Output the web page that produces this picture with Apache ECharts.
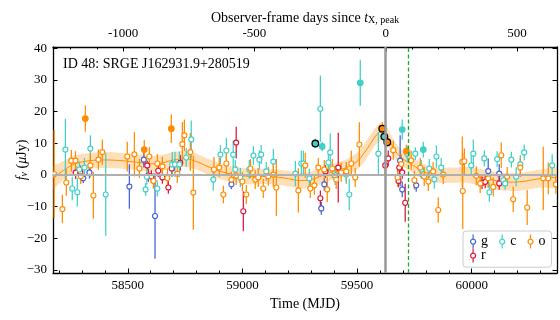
<!DOCTYPE html>
<html><head><meta charset="utf-8">
<script src="https://cdn.jsdelivr.net/npm/echarts@6/dist/echarts.min.js"></script>
<style>html,body{margin:0;padding:0;background:#fff}#c{width:560px;height:320px}</style>
</head><body><div id="c"></div>
<script>
// ---- data ----
// each row: [MJD, flux (uJy), error, kind]  kind: 0 open, 1 filled, 2 filled with black edge
const gPoints = [
 [58306,-1.1,1.5,0],[58333,0.8,2,0],[58507,-3.7,7,0],[58570,4.8,2.5,0],[58619,-13,13.5,0],
 [58952,-3,1.5,0],[59344,-10.6,2,0],[59357,-3,2,0],[59688,4.5,8,0],[59697,-4.6,2.5,0],
 [59758,-3.3,2,0],[60072,1.2,4,0],[60120,0.4,3,0]
];
const rPoints = [
 [58273,0.7,2,0],[58293,1,2,0],[58585,3,1.5,0],[58590,-0.2,2,0],[58603,-0.5,2,0],
 [58633,1.3,2,0],[58651,-0.8,2,0],[58677,-4,2,0],[58692,2,2.5,0],[58729,3.8,2.5,0],
 [58973,10.2,5,0],[59004,-11.5,6.3,0],[59340,-7.4,2.5,0],[59362,1.1,2,0],[59418,2.3,11,0],
 [59623,3,3,0],[59636,5.2,2.5,0],[59681,-1.9,2,0],[59684,2.3,2.5,0],[59697,0.8,2,0],
 [59710,-8.8,6,0],[60045,-2.5,2,0],[60059,-2.2,2,0],[60120,-2.7,2,0]
];
const cPoints = [
 [58228,8,9.7,0],[58258,-4.3,3.7,0],[58280,-5.5,4.5,0],[58289,1.7,2.5,0],[58311,2.3,3,0],
 [58337,8.3,4.2,0],[58404,-6.2,13,0],[58578,-4.6,2,0],[58583,-0.6,2.5,0],[58629,-4.3,2.5,0],
 [58694,3.3,4,0],[58706,3.3,4,0],[58725,3.3,4,0],[58755,5.5,3,0],[58777,11.2,6,0],
 [58873,-1.5,3.5,0],[58904,6.4,3,0],[58930,7.7,4,0],[58960,6.4,4.5,0],[58969,1.7,3,0],
 [58991,-0.8,3,0],[59030,1.7,3,0],[59048,6.1,3,0],[59074,4.8,3,0],[59082,6.4,3,0],
 [59104,1.1,3,0],[59135,4.2,4,0],[59231,0.4,4,0],[59257,3.6,4,0],[59266,3.6,4,0],
 [59292,-1.1,3,0],[59318,9.9,1.5,2],[59340,20.9,10.5,0],[59348,9,1.5,1],[59375,3.9,3,0],
 [59383,7.1,6,0],[59405,-0.2,3,0],[59453,0.1,3,0],[59466,-6.2,5,0],[59514,29.1,7.3,1],
 [59593,6.7,6.8,0],[59619,12.1,1.5,2],[59697,14.3,3.2,1],[59719,6.7,2.5,0],[59754,6.7,2,0],
 [59780,1.7,3,0],[59789,8,2.5,1],[59815,2,3,0],[59837,-1.4,3,0],[59846,5.8,3.5,0],
 [59867,2.3,3,0],[59998,3,3,0],[60007,6.7,4.5,0],[60055,5.2,2.5,0],[60077,-5.5,3,0],
 [60111,5,2.5,0],[60138,-1.7,2,0],[60146,-2.7,2,0],[60173,4.8,2.5,0],[60194,-0.6,3,0],
 [60212,3.3,3,0],[60229,7.1,2.5,0],[60351,3,3.5,0]
];
const oPoints = [
 [58179,0.2,14,0],[58215,-10.8,4.5,0],[58232,-2.4,4.2,0],[58254,4.5,3.4,0],[58272,4.5,3,0],
 [58295,-0.4,2.5,0],[58315,17.8,4.2,1],[58337,3,3.7,0],[58350,-6.5,7.4,0],[58372,4.8,3.2,0],
 [58389,7.2,4,0],[58498,5.8,4.7,0],[58529,6.5,7,0],[58551,2,3,0],[58572,8,3,1],
 [58594,5.8,3,0],[58612,-1.9,2.5,0],[58629,3.6,3,0],[58651,2.7,3,0],[58673,-1,3,0],
 [58690,14.6,4.5,1],[58716,0.4,3,0],[58738,9.7,7,0],[58747,12.5,5,0],[58773,7.2,6,0],
 [58786,-5.6,11.7,0],[58876,1.7,4,0],[58899,2.3,3,0],[58917,-6.2,2.8,0],[58930,3.6,4,0],
 [58952,-1.5,2.5,0],[58973,-0.2,3,0],[59000,-2.1,3,0],[59017,-6.2,3,0],[59035,2,3,0],
 [59056,-1.5,3,0],[59069,-0.8,3,0],[59091,-4.3,3,0],[59113,-0.4,3,0],[59135,0.1,4,0],
 [59148,-4,9,0],[59244,-4.9,7,0],[59274,3,4,0],[59296,-4.3,3,0],[59314,-3.3,3,0],
 [59331,2.3,3,0],[59357,1.7,3,0],[59370,-4.6,4,0],[59392,2,3,0],[59409,-1.5,3,0],
 [59431,0.8,3,0],[59453,1.1,3,0],[59475,3.6,4,0],[59492,-0.8,3,0],[59510,9.6,7,0],
 [59610,14.6,2,2],[59632,10.3,1.5,2],[59658,7.8,3,0],[59677,-0.8,3,0],[59693,3.4,3,0],
 [59715,7.5,2,1],[59736,4.6,3,0],[59750,-1.7,3,0],[59776,2.3,3,0],[59793,-0.5,3,0],
 [59811,-2.1,3,0],[59832,1.1,3,0],[59854,-11.1,4,0],[59876,0.1,3,0],[59959,4.1,8,0],
 [59961,-5.1,12,0],[59968,4.3,4,0],[60020,-0.3,3,0],[60037,-2.7,3,0],[60072,-1.1,3,0],
 [60094,-3.8,3,0],[60129,6.2,4,0],[60155,-0.5,3,0],[60181,-7.7,4,0],[60212,2.3,3,0],
 [60242,-10.3,5.5,0],[60312,-1.1,10,0],[60334,-1.1,5,0],[60367,-3,3,0]
];
// smooth model curve (mean and 1-sigma band)
const gpMJD = [58175,58200,58225,58250,58275,58300,58350,58400,58450,58500,58550,58600,58650,58700,58750,58800,58850,58900,58950,59000,59050,59100,59150,59200,59250,59300,59350,59400,59450,59500,59530,59560,59585,59605,59625,59645,59665,59685,59705,59730,59755,59780,59805,59830,59870,59920,59970,60020,60070,60120,60170,60220,60270,60320,60372];
const gpMean = [-0.8,0.4,1.7,2.8,3.6,4.1,4.6,4.7,4.6,4.3,3.9,3.5,3.8,4.7,5.1,4.2,2.6,1.2,0.3,-0.3,-0.5,-0.5,-0.7,-1.2,-1.8,-1.5,-0.2,1.2,2.2,4.3,6.8,10.0,12.6,13.7,12.8,10.3,7.8,6.0,4.8,3.6,2.5,1.4,0.6,0.1,-0.2,-0.1,0.1,-0.5,-1.2,-2.0,-2.3,-2.1,-1.5,-1.0,-0.8];
const gpSigma = [3.6,3.2,2.9,2.7,2.6,2.5,2.5,2.5,2.5,2.5,2.5,2.5,2.5,2.5,2.5,2.5,2.5,2.5,2.5,2.5,2.5,2.4,2.4,2.4,2.5,2.5,2.5,2.5,2.6,2.7,2.8,2.8,2.8,2.8,2.8,2.8,2.7,2.6,2.5,2.4,2.4,2.4,2.4,2.4,2.4,2.4,2.5,2.6,2.7,2.8,2.8,2.8,2.8,2.9,3.2];
const tPeakMJD = 59625;
const tDashMJD = 59722;
const mjdRange = [58174, 60372];
const daysRange = [-1267, 652];
const yRange = [-31, 40.4];
const mjdMajor = [58500, 59000, 59500, 60000];
const mjdMinor = [58200,58300,58400,58600,58700,58800,58900,59100,59200,59300,59400,59600,59700,59800,59900,60100,60200,60300];
const daysMajor = [-1000, -500, 0, 500];
const daysMinor = [-1200,-1100,-900,-800,-700,-600,-400,-300,-200,-100,100,200,300,400,600];
const yTicks = [-30,-20,-10,0,10,20,30,40];
const titleText = 'ID 48: SRGE J162931.9+280519';

const COL = {g:'#4363d8', r:'#dc143c', c:'#40d0c8', o:'#ff8c00'};
const FONT = "'Liberation Serif','DejaVu Serif',serif";

function errSeries(name, data) {
  const color = COL[name];
  return {
    type:'custom', name, data, clip:true, z:2, xAxisIndex:0, yAxisIndex:0,
    itemStyle:{color},
    encode:{x:0, y:1},
    renderItem(params, api) {
      const x = api.value(0), y = api.value(1), e = api.value(2), k = api.value(3);
      const c = api.coord([x, y]);
      const lo = api.coord([x, y - e]), hi = api.coord([x, y + e]);
      return {type:'group', children:[
        {type:'line', z2:1, shape:{x1:lo[0], y1:lo[1], x2:hi[0], y2:hi[1]},
         style:{stroke:color, lineWidth:1.25}},
        {type:'circle', z2: k===2?30:(k===1?20:10),
         shape:{cx:c[0], cy:c[1], r: k===2?3.3:(k===1?2.8:2.5)},
         style:{fill: k?color:'#fff', stroke: k===2?'#000':color, lineWidth: k===2?1.3:1.15}}
      ]};
    }
  };
}

const bandData = gpMJD.map((m,i)=>[m, gpMean[i]-gpSigma[i], gpMean[i]+gpSigma[i]]);
const mean = gpMJD.map((m,i)=>[m, gpMean[i]]);

const ICON = 'path://M4,0L4,4.4M4,9.6L4,14M6.5,7A2.5,2.5,0,1,1,1.5,7A2.5,2.5,0,1,1,6.5,7Z';
function legItem(n){ return {name:n, icon:ICON, itemStyle:{color:'#fff', borderColor:COL[n], borderWidth:1.2}}; }
const legText = {fontFamily:FONT, fontSize:14, color:'#000'};

const axLine = {show:true, onZero:false, lineStyle:{color:'#000', width:1.3}};
const tickStyle = {color:'#000', width:1};

const option = {
  animation:false,
  backgroundColor:'#fff',
  title:{text:titleText, left:63, top:57, padding:0,
    textStyle:{fontFamily:FONT, fontSize:14, fontWeight:'normal', color:'#000'}},
  grid:{left:53, right:3, top:47, bottom:47, containLabel:false},
  legend:[
    {data:['g','c','o'].map(legItem), left:463, top:231, padding:[3,6,18,7], itemGap:11,
     itemWidth:6, itemHeight:14, orient:'horizontal',
     backgroundColor:'rgba(255,255,255,0.85)', borderColor:'#ccc', borderWidth:1, borderRadius:3,
     textStyle:legText},
    {data:['r'].map(legItem), left:470, top:248, padding:0, itemWidth:6, itemHeight:14, z:6,
     textStyle:legText}
  ],
  xAxis:[
    {type:'value', position:'bottom', min:mjdRange[0], max:mjdRange[1],
     axisLine:axLine,
     axisTick:{show:true, inside:true, length:4.5, customValues:mjdMajor, lineStyle:tickStyle},
     axisLabel:{show:true, customValues:mjdMajor, margin:6, fontFamily:FONT, fontSize:13, color:'#000',
       formatter:v=>String(v)},
     splitLine:{show:false},
     name:'Time (MJD)', nameLocation:'middle', nameGap:22,
     nameTextStyle:{fontFamily:FONT, fontSize:14, color:'#000'}},
    {type:'value', position:'bottom', min:mjdRange[0], max:mjdRange[1],
     axisLine:{show:false, onZero:false},
     axisTick:{show:true, inside:true, length:2.5, customValues:mjdMinor, lineStyle:tickStyle},
     axisLabel:{show:false}, splitLine:{show:false}},
    {type:'value', position:'top', min:daysRange[0], max:daysRange[1],
     axisLine:axLine,
     axisTick:{show:true, inside:true, length:4.5, customValues:daysMajor, lineStyle:tickStyle},
     axisLabel:{show:true, customValues:daysMajor, margin:7, fontFamily:FONT, fontSize:13, color:'#000',
       formatter:v=>String(v)},
     splitLine:{show:false},
     name:'Observer-frame days since {i|t}{s|X, peak}', nameLocation:'middle', nameGap:22,
     nameMoveOverlap:false,
     nameTextStyle:{fontFamily:FONT, fontSize:14, color:'#000',
       rich:{i:{fontFamily:FONT, fontSize:14, fontStyle:'italic', color:'#000'},
             s:{fontFamily:FONT, fontSize:10, color:'#000', verticalAlign:'bottom', lineHeight:10}}}},
    {type:'value', position:'top', min:daysRange[0], max:daysRange[1],
     axisLine:{show:false, onZero:false},
     axisTick:{show:true, inside:true, length:2.5, customValues:daysMinor, lineStyle:tickStyle},
     axisLabel:{show:false}, splitLine:{show:false}}
  ],
  yAxis:[
    {type:'value', position:'left', min:yRange[0], max:yRange[1],
     axisLine:axLine,
     axisTick:{show:true, inside:true, length:4.5, customValues:yTicks, lineStyle:tickStyle},
     axisLabel:{show:true, customValues:yTicks, margin:6, fontFamily:FONT, fontSize:13, color:'#000',
       formatter:v=> v<0 ? '\u2212'+Math.abs(v) : String(v)},
     splitLine:{show:false},
     name:'{i|f}{s|ν} ({i|μ}Jy)', nameLocation:'middle', nameGap:24, nameRotate:90,
     nameMoveOverlap:false,
     nameTextStyle:{fontFamily:FONT, fontSize:14, color:'#000',
       rich:{i:{fontFamily:FONT, fontSize:14, fontStyle:'italic', color:'#000'},
             s:{fontFamily:FONT, fontSize:10, fontStyle:'italic', color:'#000', verticalAlign:'bottom', lineHeight:10}}}},
    {type:'value', position:'right', min:yRange[0], max:yRange[1],
     axisLine:axLine,
     axisTick:{show:true, inside:true, length:4.5, customValues:yTicks, lineStyle:tickStyle},
     axisLabel:{show:false}, splitLine:{show:false}}
  ],
  series:[
    {type:'custom', name:'band', data:bandData, clip:true, z:1, silent:true, xAxisIndex:0, yAxisIndex:0,
     encode:{x:0, y:[1,2]},
     renderItem(params, api) {
       if (params.dataIndex !== 0) return null;
       const up = bandData.map(d => api.coord([d[0], d[2]]));
       const dn = bandData.map(d => api.coord([d[0], d[1]])).reverse();
       return {type:'polygon', shape:{points: up.concat(dn), smooth:0.25},
               style:{fill:'rgba(255,140,0,0.28)', stroke:'none'}};
     }},
    {type:'line', name:'refLines', data:[], z:1, xAxisIndex:0, yAxisIndex:0, silent:true,
     markLine:{symbol:['none','none'], silent:true, label:{show:false}, animation:false,
       data:[
         {yAxis:0, lineStyle:{color:'#b0b0b0', width:2, type:'solid'}},
         {xAxis:tPeakMJD, lineStyle:{color:'#999', width:2.5, type:'solid'}},
         {xAxis:tDashMJD, lineStyle:{color:'#22aa22', width:1.3, type:[4,2.5]}}
       ]}},
    {type:'line', name:'mean', data:mean, smooth:0.4, symbol:'none', z:1,
     lineStyle:{color:'#ff8c00', width:1}, silent:true, xAxisIndex:0, yAxisIndex:0},
    errSeries('g', gPoints),
    errSeries('r', rPoints),
    errSeries('c', cPoints),
    errSeries('o', oPoints)
  ]
};
const chart = echarts.init(document.getElementById('c'));
chart.setOption(option);
</script></body></html>
